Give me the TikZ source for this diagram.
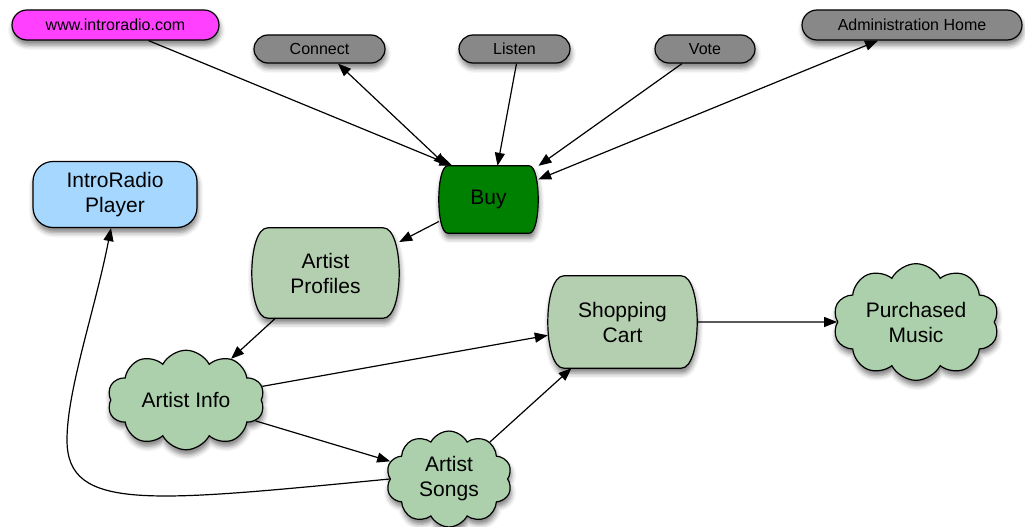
\documentclass[tikz,border=0pt]{standalone}
\usepackage{fontspec}
\setmainfont{Liberation Sans}
\usetikzlibrary{arrows.meta,shapes.symbols,shadows.blur,backgrounds}
\definecolor{magentaA}{RGB}{255,64,255}
\definecolor{grayA}{RGB}{136,136,136}
\definecolor{greenA}{RGB}{0,128,0}
\definecolor{blueA}{RGB}{166,216,255}
\definecolor{sageA}{RGB}{180,206,176}
\definecolor{cloudA}{RGB}{172,208,172}
\tikzset{
  shad/.style={blur shadow={shadow xshift=1pt, shadow yshift=-5pt, shadow blur radius=5pt, shadow opacity=50}},
  pill/.style={rectangle, rounded corners=14pt, draw, line width=1.2pt, shad, font=\fontsize{16}{18}\selectfont, inner sep=0pt},
  big/.style={font=\fontsize{21}{25}\selectfont, align=center, inner sep=0pt},
  boxA/.style={big, rectangle},
  cloudB/.style={cloud, cloud puffs=10, cloud puff arc=125, cloud ignores aspect=false, draw, line width=1.2pt, fill=cloudA, shad, big},
  conn/.style={line width=1.2pt, -{Triangle[length=13pt,width=10pt]}},
  conn2/.style={line width=1.2pt, {Triangle[length=13pt,width=10pt]}-{Triangle[length=13pt,width=10pt]}},
}
\newcommand{\bulgeshape}[3]{%
  \draw[line width=1.2pt, fill=#3, shad] ([xshift=#2]#1.north west) -- ([xshift=-#2]#1.north east)
    .. controls ([xshift=#2/3]#1.north east) and ([xshift=#2/3]#1.south east) .. ([xshift=-#2]#1.south east)
    -- ([xshift=#2]#1.south west)
    .. controls ([xshift=-#2/3]#1.south west) and ([xshift=-#2/3]#1.north west) .. cycle;}
\begin{document}
\begin{tikzpicture}[x=1pt,y=-1pt]
\useasboundingbox (0,0) rectangle (1025,527);
% top row
\node[pill, fill=magentaA, minimum width=207pt, minimum height=30pt, rounded corners=15pt] (www) at (115.5,25) {www.introradio.com};
\node[pill, fill=grayA, minimum width=131pt, minimum height=28pt] (connect) at (319.5,49) {Connect};
\node[pill, fill=grayA, minimum width=111pt, minimum height=28pt] (listen) at (514.5,49) {Listen};
\node[pill, fill=grayA, minimum width=100pt, minimum height=28pt] (vote) at (705,49) {Vote};
\node[pill, fill=grayA, minimum width=220pt, minimum height=30pt, rounded corners=15pt] (admin) at (912,25) {Administration Home};
% boxes
\node[boxA, minimum width=99pt, minimum height=67pt] (buy) at (488.5,199.5) {Buy};
\node[boxA, draw, fill=blueA, rounded corners=20pt, line width=1.2pt, shad, minimum width=164pt, minimum height=66pt] (player) at (115,194.5) {IntroRadio\\Player};
\node[boxA, minimum width=147pt, minimum height=90pt] (profiles) at (325.5,273) {Artist\\Profiles};
\node[boxA, minimum width=149pt, minimum height=92pt] (cart) at (622.5,322) {Shopping\\Cart};
% clouds
\node[cloudB, aspect=1.57, minimum width=157pt] (info) at (186,400) {Artist Info};
\node[cloudB, aspect=1.0, minimum width=126pt, minimum height=95pt] (songs) at (449,479) {Artist\\Songs};
\node[cloudB, aspect=1.5, minimum width=166pt] (purchased) at (916,322) {Purchased\\Music};
\begin{scope}[on background layer]
  \bulgeshape{buy}{9}{greenA}
  \bulgeshape{profiles}{16}{sageA}
  \bulgeshape{cart}{16}{sageA}
\end{scope}
% connectors
\draw[conn] ([xshift=33pt]www.south) -- ([xshift=-36pt]buy.north);
\draw[conn2] ([xshift=18.5pt]connect.south) -- ([xshift=-42pt]buy.north);
\draw[conn] ([xshift=2pt]listen.south) -- ([xshift=9pt]buy.north);
\draw[conn] ([xshift=-23pt]vote.south) -- ([xshift=50pt]buy.north);
\draw[conn2] ([xshift=-34pt]admin.south) -- ([yshift=20pt]buy.east);
\draw[conn] ([yshift=-22pt]buy.west) -- ([yshift=31pt]profiles.east);
\draw[conn] ([xshift=-50pt]profiles.south) -- (info);
\draw[conn] (info) -- (cart);
\draw[conn] (info) -- (songs);
\draw[conn] (songs) -- (cart);
\draw[conn] (cart) -- (purchased);
\draw[conn] (songs.west) .. controls (150,502) and (67,512) .. (67,440)
  .. controls (67,390) and (95,310) .. ([xshift=-4pt]player.south);
\end{tikzpicture}
\end{document}
